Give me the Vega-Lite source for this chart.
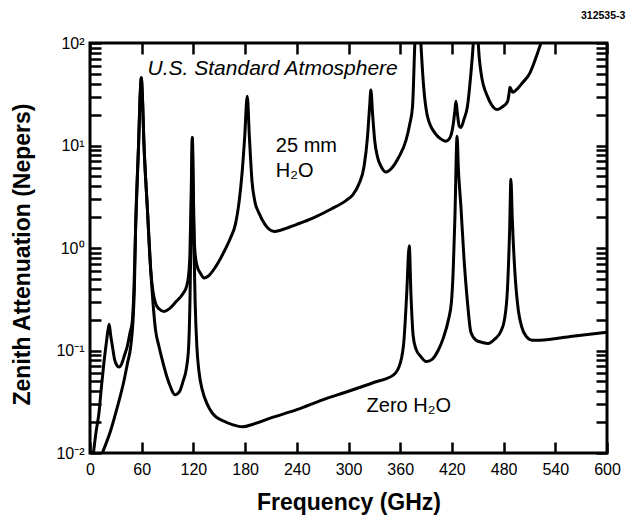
{
  "$schema": "https://vega.github.io/schema/vega-lite/v6.json",
  "width": 517,
  "height": 410,
  "autosize": {"type": "none"},
  "padding": {"left": 90, "top": 43, "right": 26, "bottom": 67},
  "background": "white",
  "title": {"text": "312535-3", "anchor": "end", "fontSize": 10.5, "fontWeight": "bold", "font": "Liberation Sans", "offset": 14, "dx": 5, "color": "black"},
  "config": {
    "view": {"stroke": "black", "strokeWidth": 3},
    "axis": {"domain": false, "grid": false, "ticks": true, "tickColor": "black", "tickWidth": 2.5, "tickSize": -11, "labelColor": "black", "titleColor": "black", "labelFont": "Liberation Sans", "titleFont": "Liberation Sans", "labelOverlap": false, "labelFlush": false}
  },
  "datasets": {
    "curves": [
      {"f":4,"a":0.01,"s":"wet"},{"f":7,"a":0.016,"s":"wet"},{"f":10.5,"a":0.025,"s":"wet"},{"f":13,"a":0.042,"s":"wet"},{"f":16,"a":0.074,"s":"wet"},{"f":19,"a":0.12,"s":"wet"},{"f":21,"a":0.16,"s":"wet"},{"f":22.3,"a":0.18,"s":"wet"},{"f":24,"a":0.14,"s":"wet"},{"f":26,"a":0.11,"s":"wet"},{"f":28.5,"a":0.082,"s":"wet"},{"f":31,"a":0.072,"s":"wet"},{"f":33.7,"a":0.069,"s":"wet"},{"f":37,"a":0.075,"s":"wet"},{"f":40,"a":0.09,"s":"wet"},{"f":43.3,"a":0.11,"s":"wet"},{"f":46.5,"a":0.15,"s":"wet"},{"f":49,"a":0.19,"s":"wet"},{"f":51,"a":0.4,"s":"wet"},{"f":53,"a":1.66,"s":"wet"},{"f":56.3,"a":9.8,"s":"wet"},{"f":58.5,"a":35,"s":"wet"},{"f":59.5,"a":45.7,"s":"wet"},{"f":60.5,"a":35,"s":"wet"},{"f":62.6,"a":10.5,"s":"wet"},{"f":66.5,"a":2.5,"s":"wet"},{"f":70.5,"a":0.6,"s":"wet"},{"f":73,"a":0.38,"s":"wet"},{"f":76,"a":0.29,"s":"wet"},{"f":80,"a":0.255,"s":"wet"},{"f":86,"a":0.24,"s":"wet"},{"f":92,"a":0.255,"s":"wet"},{"f":100,"a":0.3,"s":"wet"},{"f":108,"a":0.36,"s":"wet"},{"f":112,"a":0.42,"s":"wet"},{"f":114.5,"a":0.55,"s":"wet"},{"f":116,"a":0.9,"s":"wet"},{"f":117.3,"a":3,"s":"wet"},{"f":118.2,"a":8,"s":"wet"},{"f":118.8,"a":12,"s":"wet"},{"f":119.5,"a":6,"s":"wet"},{"f":120.5,"a":2,"s":"wet"},{"f":121.5,"a":1.0,"s":"wet"},{"f":124,"a":0.68,"s":"wet"},{"f":128.5,"a":0.56,"s":"wet"},{"f":132.5,"a":0.51,"s":"wet"},{"f":137,"a":0.53,"s":"wet"},{"f":145.5,"a":0.65,"s":"wet"},{"f":155,"a":0.9,"s":"wet"},{"f":163,"a":1.25,"s":"wet"},{"f":169,"a":1.74,"s":"wet"},{"f":173,"a":2.8,"s":"wet"},{"f":176.5,"a":5.4,"s":"wet"},{"f":179.5,"a":12,"s":"wet"},{"f":182.5,"a":30.2,"s":"wet"},{"f":185,"a":12,"s":"wet"},{"f":188,"a":4.5,"s":"wet"},{"f":191.5,"a":2.8,"s":"wet"},{"f":196,"a":2.2,"s":"wet"},{"f":203,"a":1.7,"s":"wet"},{"f":208,"a":1.52,"s":"wet"},{"f":214,"a":1.45,"s":"wet"},{"f":222,"a":1.5,"s":"wet"},{"f":240,"a":1.7,"s":"wet"},{"f":258,"a":1.95,"s":"wet"},{"f":280,"a":2.4,"s":"wet"},{"f":297,"a":2.9,"s":"wet"},{"f":305,"a":3.3,"s":"wet"},{"f":312,"a":4.2,"s":"wet"},{"f":318,"a":6.2,"s":"wet"},{"f":322,"a":12,"s":"wet"},{"f":324.5,"a":24,"s":"wet"},{"f":326,"a":34.7,"s":"wet"},{"f":328,"a":20,"s":"wet"},{"f":330.5,"a":11,"s":"wet"},{"f":333.7,"a":7.7,"s":"wet"},{"f":338,"a":6.2,"s":"wet"},{"f":343.4,"a":5.5,"s":"wet"},{"f":350,"a":6,"s":"wet"},{"f":358,"a":7.6,"s":"wet"},{"f":366.7,"a":11.2,"s":"wet"},{"f":371,"a":16,"s":"wet"},{"f":374.3,"a":24,"s":"wet"},{"f":377,"a":100,"s":"wet"},{"f":380.5,"a":398,"s":"wet"},{"f":384,"a":100,"s":"wet"},{"f":386.5,"a":45,"s":"wet"},{"f":391.8,"a":19,"s":"wet"},{"f":401,"a":13,"s":"wet"},{"f":407,"a":11.6,"s":"wet"},{"f":413,"a":11,"s":"wet"},{"f":418,"a":12,"s":"wet"},{"f":421.5,"a":16,"s":"wet"},{"f":423.5,"a":22,"s":"wet"},{"f":424.7,"a":27,"s":"wet"},{"f":426.5,"a":20,"s":"wet"},{"f":428.5,"a":15.5,"s":"wet"},{"f":430.5,"a":15,"s":"wet"},{"f":434,"a":18,"s":"wet"},{"f":438,"a":24,"s":"wet"},{"f":441.5,"a":45,"s":"wet"},{"f":444.8,"a":100,"s":"wet"},{"f":448,"a":398,"s":"wet"},{"f":450.6,"a":100,"s":"wet"},{"f":454,"a":50,"s":"wet"},{"f":461.4,"a":30,"s":"wet"},{"f":466,"a":25,"s":"wet"},{"f":473,"a":22.4,"s":"wet"},{"f":479,"a":24,"s":"wet"},{"f":484.7,"a":27,"s":"wet"},{"f":486.5,"a":33,"s":"wet"},{"f":487.4,"a":37,"s":"wet"},{"f":490.5,"a":33,"s":"wet"},{"f":495,"a":35,"s":"wet"},{"f":502,"a":41,"s":"wet"},{"f":510,"a":50,"s":"wet"},{"f":517,"a":70,"s":"wet"},{"f":523.4,"a":100,"s":"wet"},{"f":530,"a":140,"s":"wet"},
      {"f":14.3,"a":0.01,"s":"dry"},{"f":18,"a":0.012,"s":"dry"},{"f":24,"a":0.0166,"s":"dry"},{"f":31.7,"a":0.028,"s":"dry"},{"f":39.5,"a":0.051,"s":"dry"},{"f":43.5,"a":0.075,"s":"dry"},{"f":47.3,"a":0.11,"s":"dry"},{"f":50,"a":0.2,"s":"dry"},{"f":51.5,"a":0.4,"s":"dry"},{"f":53,"a":1.66,"s":"dry"},{"f":56.3,"a":9.8,"s":"dry"},{"f":58.5,"a":35,"s":"dry"},{"f":59.5,"a":45.7,"s":"dry"},{"f":60.5,"a":35,"s":"dry"},{"f":62.6,"a":10.5,"s":"dry"},{"f":66.5,"a":2.5,"s":"dry"},{"f":70.5,"a":0.6,"s":"dry"},{"f":73,"a":0.3,"s":"dry"},{"f":76,"a":0.16,"s":"dry"},{"f":80,"a":0.11,"s":"dry"},{"f":84,"a":0.08,"s":"dry"},{"f":88,"a":0.06,"s":"dry"},{"f":93,"a":0.045,"s":"dry"},{"f":98.5,"a":0.037,"s":"dry"},{"f":104,"a":0.04,"s":"dry"},{"f":108,"a":0.05,"s":"dry"},{"f":112,"a":0.068,"s":"dry"},{"f":114.5,"a":0.11,"s":"dry"},{"f":116,"a":0.3,"s":"dry"},{"f":117.3,"a":1.5,"s":"dry"},{"f":118.2,"a":6,"s":"dry"},{"f":118.8,"a":12,"s":"dry"},{"f":119.5,"a":5,"s":"dry"},{"f":120.5,"a":1.2,"s":"dry"},{"f":122,"a":0.3,"s":"dry"},{"f":124,"a":0.11,"s":"dry"},{"f":126.5,"a":0.062,"s":"dry"},{"f":130.4,"a":0.041,"s":"dry"},{"f":136,"a":0.03,"s":"dry"},{"f":142,"a":0.0245,"s":"dry"},{"f":155,"a":0.0205,"s":"dry"},{"f":166,"a":0.0188,"s":"dry"},{"f":177,"a":0.018,"s":"dry"},{"f":190,"a":0.0192,"s":"dry"},{"f":210,"a":0.022,"s":"dry"},{"f":240,"a":0.0265,"s":"dry"},{"f":270,"a":0.033,"s":"dry"},{"f":300,"a":0.04,"s":"dry"},{"f":330,"a":0.049,"s":"dry"},{"f":352,"a":0.0575,"s":"dry"},{"f":360,"a":0.075,"s":"dry"},{"f":364.5,"a":0.13,"s":"dry"},{"f":367.5,"a":0.35,"s":"dry"},{"f":370.5,"a":1.05,"s":"dry"},{"f":372.5,"a":0.35,"s":"dry"},{"f":375,"a":0.14,"s":"dry"},{"f":378,"a":0.105,"s":"dry"},{"f":384,"a":0.087,"s":"dry"},{"f":390,"a":0.078,"s":"dry"},{"f":397,"a":0.082,"s":"dry"},{"f":404,"a":0.1,"s":"dry"},{"f":410,"a":0.132,"s":"dry"},{"f":416,"a":0.2,"s":"dry"},{"f":419.5,"a":0.3,"s":"dry"},{"f":421.5,"a":0.6,"s":"dry"},{"f":423.5,"a":2,"s":"dry"},{"f":426,"a":12.3,"s":"dry"},{"f":427.5,"a":6,"s":"dry"},{"f":430.5,"a":2.5,"s":"dry"},{"f":434,"a":0.8,"s":"dry"},{"f":438,"a":0.3,"s":"dry"},{"f":442,"a":0.151,"s":"dry"},{"f":448,"a":0.126,"s":"dry"},{"f":455,"a":0.12,"s":"dry"},{"f":462,"a":0.117,"s":"dry"},{"f":470,"a":0.13,"s":"dry"},{"f":477,"a":0.155,"s":"dry"},{"f":481,"a":0.2,"s":"dry"},{"f":484.5,"a":0.4,"s":"dry"},{"f":487,"a":1.5,"s":"dry"},{"f":488.5,"a":4.68,"s":"dry"},{"f":490,"a":2,"s":"dry"},{"f":493,"a":0.6,"s":"dry"},{"f":497,"a":0.25,"s":"dry"},{"f":501,"a":0.17,"s":"dry"},{"f":506,"a":0.138,"s":"dry"},{"f":513,"a":0.126,"s":"dry"},{"f":522,"a":0.126,"s":"dry"},{"f":560,"a":0.138,"s":"dry"},{"f":600,"a":0.151,"s":"dry"}
    ],
    "header": [{"f":212,"a":48.7,"t":"U.S. Standard Atmosphere"}],
    "notes": [
      {"f":215.7,"a":8.7,"t":"25 mm"},
      {"f":215.7,"a":4.97,"t":"H₂O"},
      {"f":321,"a":0.0253,"t":"Zero H₂O"}
    ]
  },
  "resolve": {"axis": {"x": "independent", "y": "independent"}},
  "layer": [
    {
      "data": {"name": "curves"},
      "mark": {"type": "line", "color": "black", "strokeWidth": 3, "clip": true, "interpolate": "monotone"},
      "encoding": {
        "x": {"field": "f", "type": "quantitative", "scale": {"domain": [0, 600], "nice": false},
          "axis": {"orient": "bottom", "values": [0,60,120,180,240,300,360,420,480,540,600], "title": "Frequency (GHz)", "labelPadding": 19, "labelFontSize": 16, "titleFontSize": 23, "titleFontWeight": "bold", "titleY": 56, "titleBaseline": "alphabetic"}},
        "y": {"field": "a", "type": "quantitative", "scale": {"type": "log", "domain": [0.01, 100], "nice": false},
          "axis": {"orient": "left", "values": [0.01,0.02,0.03,0.04,0.05,0.06,0.07,0.08,0.09,0.1,0.2,0.3,0.4,0.5,0.6,0.7,0.8,0.9,1,2,3,4,5,6,7,8,9,10,20,30,40,50,60,70,80,90,100],
            "labelExpr": "datum.value == 100 ? '10²' : datum.value == 10 ? '10¹' : datum.value == 1 ? '10⁰' : datum.value == 0.1 ? '10⁻¹' : datum.value == 0.01 ? '10⁻²' : ''",
            "title": "Zenith Attenuation (Nepers)", "labelPadding": 17, "labelFontSize": 16, "titleFontSize": 23, "titleFontWeight": "bold", "titleX": -68, "titleY": 211, "titleBaseline": "middle"}},
        "detail": {"field": "s", "type": "nominal"}
      }
    },
    {
      "data": {"name": "header"},
      "mark": {"type": "text", "font": "Liberation Sans", "fontStyle": "italic", "fontSize": 21, "align": "center", "baseline": "alphabetic", "color": "black"},
      "encoding": {
        "x": {"field": "f", "type": "quantitative", "axis": null},
        "y": {"field": "a", "type": "quantitative", "axis": null},
        "text": {"field": "t"}
      }
    },
    {
      "data": {"name": "notes"},
      "mark": {"type": "text", "font": "Liberation Sans", "fontSize": 20, "align": "left", "baseline": "alphabetic", "color": "black"},
      "encoding": {
        "x": {"field": "f", "type": "quantitative",
          "axis": {"orient": "top", "values": [0,60,120,180,240,300,360,420,480,540,600], "labels": false, "title": null}},
        "y": {"field": "a", "type": "quantitative",
          "axis": {"orient": "right", "values": [0.01,0.02,0.03,0.04,0.05,0.06,0.07,0.08,0.09,0.1,0.2,0.3,0.4,0.5,0.6,0.7,0.8,0.9,1,2,3,4,5,6,7,8,9,10,20,30,40,50,60,70,80,90,100], "labels": false, "title": null}},
        "text": {"field": "t"}
      }
    }
  ]
}
